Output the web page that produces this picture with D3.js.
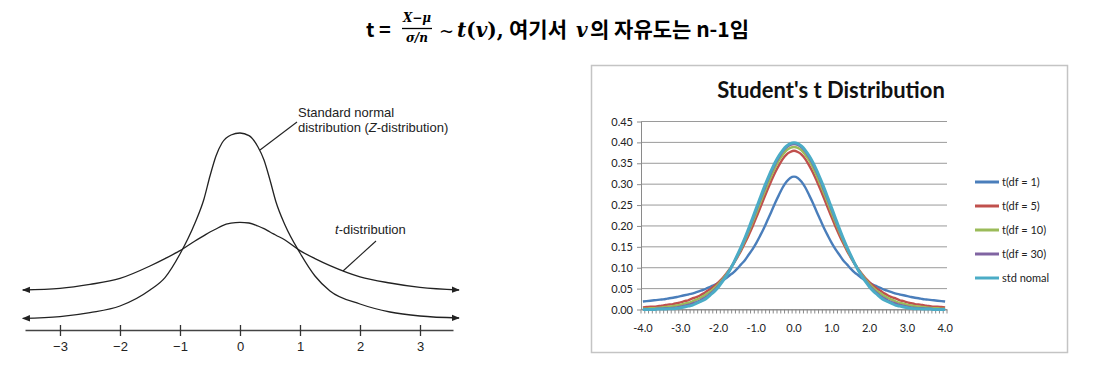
<!DOCTYPE html>
<html>
<head>
<meta charset="utf-8">
<script src="https://cdn.jsdelivr.net/npm/d3@7"></script>
<style>
  body { margin: 0; background: #fff; }
  svg { display: block; }
</style>
</head>
<body>
<svg id="chart" width="1108" height="369"></svg>
<script>
// ---- left panel: hand-drawn sketch, heights ----
var leftX = [-3.62, -3, -2.5, -2, -1.5, -1.25, -1, -0.75, -0.6, -0.5, -0.4, -0.3, -0.15, 0,
             0.15, 0.3, 0.4, 0.5, 0.6, 0.75, 1, 1.25, 1.5, 2, 2.5, 3, 3.65];
var normalH = [0.058, 0.067, 0.087, 0.12, 0.20, 0.262, 0.38, 0.535, 0.655, 0.77, 0.87, 0.935, 0.975, 0.985,
               0.972, 0.915, 0.85, 0.75, 0.64, 0.525, 0.385, 0.27, 0.195, 0.13, 0.09, 0.07, 0.06];
var tDistH = [0.20, 0.208, 0.228, 0.258, 0.32, 0.357, 0.397, 0.445, 0.472, 0.49, 0.505, 0.521, 0.534, 0.538,
              0.535, 0.52, 0.507, 0.49, 0.474, 0.45, 0.397, 0.357, 0.322, 0.266, 0.235, 0.213, 0.20];
var leftTicks = [-3, -2, -1, 0, 1, 2, 3];

// ---- right panel: Student's t densities ----
var xCats = ["-4.0","-3.9","-3.8","-3.7","-3.6","-3.5","-3.4","-3.3","-3.2","-3.1",
  "-3.0","-2.9","-2.8","-2.7","-2.6","-2.5","-2.4","-2.3","-2.2","-2.1",
  "-2.0","-1.9","-1.8","-1.7","-1.6","-1.5","-1.4","-1.3","-1.2","-1.1",
  "-1.0","-0.9","-0.8","-0.7","-0.6","-0.5","-0.4","-0.3","-0.2","-0.1",
  "0.0","0.1","0.2","0.3","0.4","0.5","0.6","0.7","0.8","0.9",
  "1.0","1.1","1.2","1.3","1.4","1.5","1.6","1.7","1.8","1.9",
  "2.0","2.1","2.2","2.3","2.4","2.5","2.6","2.7","2.8","2.9",
  "3.0","3.1","3.2","3.3","3.4","3.5","3.6","3.7","3.8","3.9","4.0"];
var xTickLabels = ["-4.0","-3.0","-2.0","-1.0","0.0","1.0","2.0","3.0","4.0"];
var yTicks = [0, 0.05, 0.10, 0.15, 0.20, 0.25, 0.30, 0.35, 0.40, 0.45];

var df1 = [.019,.020,.021,.022,.023,.024,.025,.027,.028,.030,.032,.034,.036,.038,.041,.044,.047,.051,.055,.059,
  .064,.069,.075,.082,.089,.098,.108,.118,.131,.144,.159,.176,.194,.214,.234,.255,.274,.292,.306,.315,
  .318,
  .315,.306,.292,.274,.255,.234,.214,.194,.176,.159,.144,.131,.118,.108,.098,.089,.082,.075,.069,.064,
  .059,.055,.051,.047,.044,.041,.038,.036,.034,.032,.030,.028,.027,.025,.024,.023,.022,.021,.020,.019];
var df5 = [.005,.006,.007,.007,.008,.009,.011,.012,.013,.015,.017,.020,.022,.026,.029,.033,.038,.044,.050,.057,
  .065,.074,.085,.097,.110,.125,.141,.159,.178,.198,.220,.242,.265,.287,.308,.328,.345,.360,.371,.377,
  .380,
  .377,.371,.360,.345,.328,.308,.287,.265,.242,.220,.198,.178,.159,.141,.125,.110,.097,.085,.074,.065,
  .057,.050,.044,.038,.033,.029,.026,.022,.020,.017,.015,.013,.012,.011,.009,.008,.007,.007,.006,.005];
var df10 = [.002,.002,.003,.003,.004,.005,.006,.007,.008,.010,.011,.014,.016,.019,.023,.027,.032,.038,.044,.052,
  .061,.071,.083,.096,.111,.127,.145,.165,.186,.208,.230,.254,.277,.299,.320,.340,.357,.370,.381,.387,
  .389,
  .387,.381,.370,.357,.340,.320,.299,.277,.254,.230,.208,.186,.165,.145,.127,.111,.096,.083,.071,.061,
  .052,.044,.038,.032,.027,.023,.019,.016,.014,.011,.010,.008,.007,.006,.005,.004,.003,.003,.002,.002];
var df30 = [.001,.001,.001,.001,.002,.002,.003,.003,.004,.005,.007,.009,.011,.014,.017,.021,.026,.032,.039,.047,
  .057,.068,.081,.095,.111,.129,.148,.169,.191,.214,.238,.262,.285,.308,.329,.348,.364,.378,.388,.394,
  .396,
  .394,.388,.378,.364,.348,.329,.308,.285,.262,.238,.214,.191,.169,.148,.129,.111,.095,.081,.068,.057,
  .047,.039,.032,.026,.021,.017,.014,.011,.009,.007,.005,.004,.003,.003,.002,.002,.001,.001,.001,.001];
var stdNormal = [.000,.000,.000,.000,.001,.001,.001,.002,.002,.003,.004,.006,.008,.010,.014,.018,.022,.028,.036,.044,
  .054,.066,.079,.094,.111,.130,.150,.171,.194,.218,.242,.266,.290,.312,.333,.352,.368,.381,.391,.397,
  .399,
  .397,.391,.381,.368,.352,.333,.312,.290,.266,.242,.218,.194,.171,.150,.130,.111,.094,.079,.066,.054,
  .044,.036,.028,.022,.018,.014,.010,.008,.006,.004,.003,.002,.002,.001,.001,.001,.000,.000,.000,.000];

var seriesNames = ["t(df = 1)", "t(df = 5)", "t(df = 10)", "t(df = 30)", "std nomal"];
var seriesValues = [df1, df5, df10, df30, stdNormal];
var seriesColors = ["#4a7ebb", "#c0504d", "#9bbb59", "#8064a2", "#4bacc6"];

var svg = d3.select("#chart");

// ---------- title ----------
var kr = "'Noto Sans CJK KR', 'Noto Sans', sans-serif";
var mathFont = "'DejaVu Serif', 'Liberation Serif', serif";
var title = svg.append("g").attr("class", "title");

function piece(x, txt, font, italic, size) {
    return title.append("text").attr("x", x).attr("y", 37)
        .attr("font-family", font).attr("font-weight", "bold")
        .attr("font-style", italic ? "italic" : "normal")
        .attr("font-size", size || 20).text(txt);
}
piece(366, "t =", kr, false);
title.append("text").attr("x", 417).attr("y", 22).attr("text-anchor", "middle")
    .attr("font-family", mathFont).attr("font-style", "italic").attr("font-weight", "bold")
    .attr("font-size", 12).text("X−μ");
title.append("line").attr("x1", 402).attr("x2", 432).attr("y1", 28.5).attr("y2", 28.5)
    .attr("stroke", "#000").attr("stroke-width", 1.3);
title.append("text").attr("x", 417).attr("y", 42).attr("text-anchor", "middle")
    .attr("font-family", mathFont).attr("font-style", "italic").attr("font-weight", "bold")
    .attr("font-size", 12).text("σ/n");
piece(439, "~", mathFont, false, 18).attr("font-weight", "normal");
var tv = title.append("text").attr("x", 457).attr("y", 37)
    .attr("font-family", mathFont).attr("font-weight", "bold").attr("font-size", 20);
tv.append("tspan").attr("font-style", "italic").text("t");
tv.append("tspan").text("(");
tv.append("tspan").attr("font-style", "italic").text("v");
tv.append("tspan").text("),");
piece(509, "여기서", kr, false, 21);
piece(576, "v", mathFont, true, 20);
piece(590, "의 자유도는 n-1임", kr, false, 21);

// ---------- left panel ----------
var narrow = "'Liberation Sans Narrow', 'Arial Narrow', 'Liberation Sans', sans-serif";
var xL = d3.scaleLinear().domain([-3.583, 3.55]).range([25, 453]);
var yL = d3.scaleLinear().domain([0, 1]).range([330, 130]);

var defs = svg.append("defs");
defs.append("marker").attr("id", "arrow")
    .attr("viewBox", "0 0 10 10").attr("refX", 9).attr("refY", 5)
    .attr("markerWidth", 8).attr("markerHeight", 8)
    .attr("markerUnits", "userSpaceOnUse")
    .attr("orient", "auto-start-reverse")
  .append("path").attr("d", "M0,1 L10,5 L0,9 Z").attr("fill", "#222");

var left = svg.append("g").attr("class", "left");

var axL = left.append("g").attr("transform", "translate(0,330)")
    .call(d3.axisBottom(xL).tickValues(leftTicks).tickSizeOuter(0)
        .tickFormat(function(d) { return d < 0 ? "−" + Math.abs(d) : d; }));
axL.select(".domain").attr("stroke", "#444").attr("stroke-width", 1.3);
axL.selectAll(".tick line").attr("y1", -5).attr("y2", 6).attr("stroke", "#333").attr("stroke-width", 1.3);
axL.selectAll(".tick text").attr("y", 12).attr("dy", "0.71em")
    .attr("font-family", narrow).attr("font-size", 13).attr("fill", "#222");

var lineL = d3.line()
    .x(function(d, i) { return xL(leftX[i]); })
    .y(function(d) { return yL(d); })
    .curve(d3.curveMonotoneX);

[normalH, tDistH].forEach(function(s) {
    left.append("path").datum(s)
        .attr("d", lineL)
        .attr("fill", "none").attr("stroke", "#222").attr("stroke-width", 1.3)
        .attr("marker-start", "url(#arrow)").attr("marker-end", "url(#arrow)");
});

// labels and leader lines
left.append("line").attr("x1", 260).attr("y1", 150).attr("x2", 297).attr("y2", 122)
    .attr("stroke", "#222").attr("stroke-width", 1.1);
left.append("text").attr("x", 298).attr("y", 117)
    .attr("font-family", narrow).attr("font-size", 13).attr("fill", "#222")
    .text("Standard normal");
var zl = left.append("text").attr("x", 298).attr("y", 132)
    .attr("font-family", narrow).attr("font-size", 13).attr("fill", "#222");
zl.append("tspan").text("distribution (");
zl.append("tspan").attr("font-style", "italic").text("Z");
zl.append("tspan").text("-distribution)");

left.append("line").attr("x1", 343).attr("y1", 271).attr("x2", 376).attr("y2", 241)
    .attr("stroke", "#222").attr("stroke-width", 1.1);
var tl = left.append("text").attr("x", 335).attr("y", 234)
    .attr("font-family", narrow).attr("font-size", 13).attr("fill", "#222");
tl.append("tspan").attr("font-style", "italic").text("t");
tl.append("tspan").text("-distribution");

// ---------- right panel (Excel-style chart) ----------
var cal = "Lato, 'Open Sans', sans-serif";
var right = svg.append("g").attr("class", "right");
right.append("rect").attr("x", 591.5).attr("y", 65.5).attr("width", 476).attr("height", 287)
    .attr("fill", "#fff").attr("stroke", "#c4c4c4").attr("stroke-width", 1.5);

right.append("text").attr("x", 831).attr("y", 98).attr("text-anchor", "middle")
    .attr("font-family", cal).attr("font-weight", "bold").attr("font-size", 22)
    .attr("fill", "#111").text("Student's t Distribution");

var xR = d3.scaleBand().domain(xCats).range([641, 947]);
var yR = d3.scaleLinear().domain([0, 0.45]).range([309.5, 121.5]);

// gridlines
right.append("g").selectAll("line").data(yTicks).enter().append("line")
    .attr("x1", 641).attr("x2", 947)
    .attr("y1", function(d) { return yR(d); }).attr("y2", function(d) { return yR(d); })
    .attr("stroke", "#9a9a9a").attr("stroke-width", 1);

// y axis
var ayR = right.append("g").attr("transform", "translate(641,0)")
    .call(d3.axisLeft(yR).tickValues(yTicks).tickSize(4).tickSizeOuter(0)
        .tickFormat(d3.format(".2f")));
ayR.select(".domain").attr("stroke", "#8a8a8a");
ayR.selectAll(".tick line").attr("stroke", "#8a8a8a");
ayR.selectAll(".tick text").attr("x", -8).attr("font-family", cal).attr("font-size", 11).attr("fill", "#222");

// x axis: labels every 1.0, small tick at each category boundary
var axR = right.append("g").attr("transform", "translate(0,309.5)")
    .call(d3.axisBottom(xR).tickValues(xTickLabels).tickSize(0).tickSizeOuter(0));
axR.select(".domain").attr("stroke", "#8a8a8a");
axR.selectAll(".tick text").attr("y", 15).attr("font-family", cal).attr("font-size", 11).attr("fill", "#222");
var bounds = xCats.map(function(c) { return xR(c); }).concat([xR.range()[1]]);
right.append("g").selectAll("line").data(bounds).enter().append("line")
    .attr("x1", function(d) { return d; }).attr("x2", function(d) { return d; })
    .attr("y1", 309.5).attr("y2", 313.5)
    .attr("stroke", "#8a8a8a").attr("stroke-width", 1);

var lineR = d3.line()
    .x(function(d, i) { return xR(xCats[i]) + xR.bandwidth() / 2; })
    .y(function(d) { return yR(d); })
    .curve(d3.curveMonotoneX);

seriesValues.forEach(function(s, k) {
    right.append("path").datum(s)
        .attr("d", lineR)
        .attr("fill", "none")
        .attr("stroke", seriesColors[k])
        .attr("stroke-width", k === 4 ? 3 : 2.4)
        .attr("stroke-linejoin", "round");
});

// legend
var legend = right.append("g").selectAll("g").data(seriesNames).enter().append("g")
    .attr("transform", function(d, i) { return "translate(975," + (182 + i * 24) + ")"; });
legend.append("line").attr("x1", 0).attr("x2", 24)
    .attr("stroke", function(d, i) { return seriesColors[i]; }).attr("stroke-width", 3);
legend.append("text").attr("x", 27).attr("y", 4)
    .attr("font-family", cal).attr("font-size", 11).attr("fill", "#222")
    .text(function(d) { return d; });
</script>
</body>
</html>
